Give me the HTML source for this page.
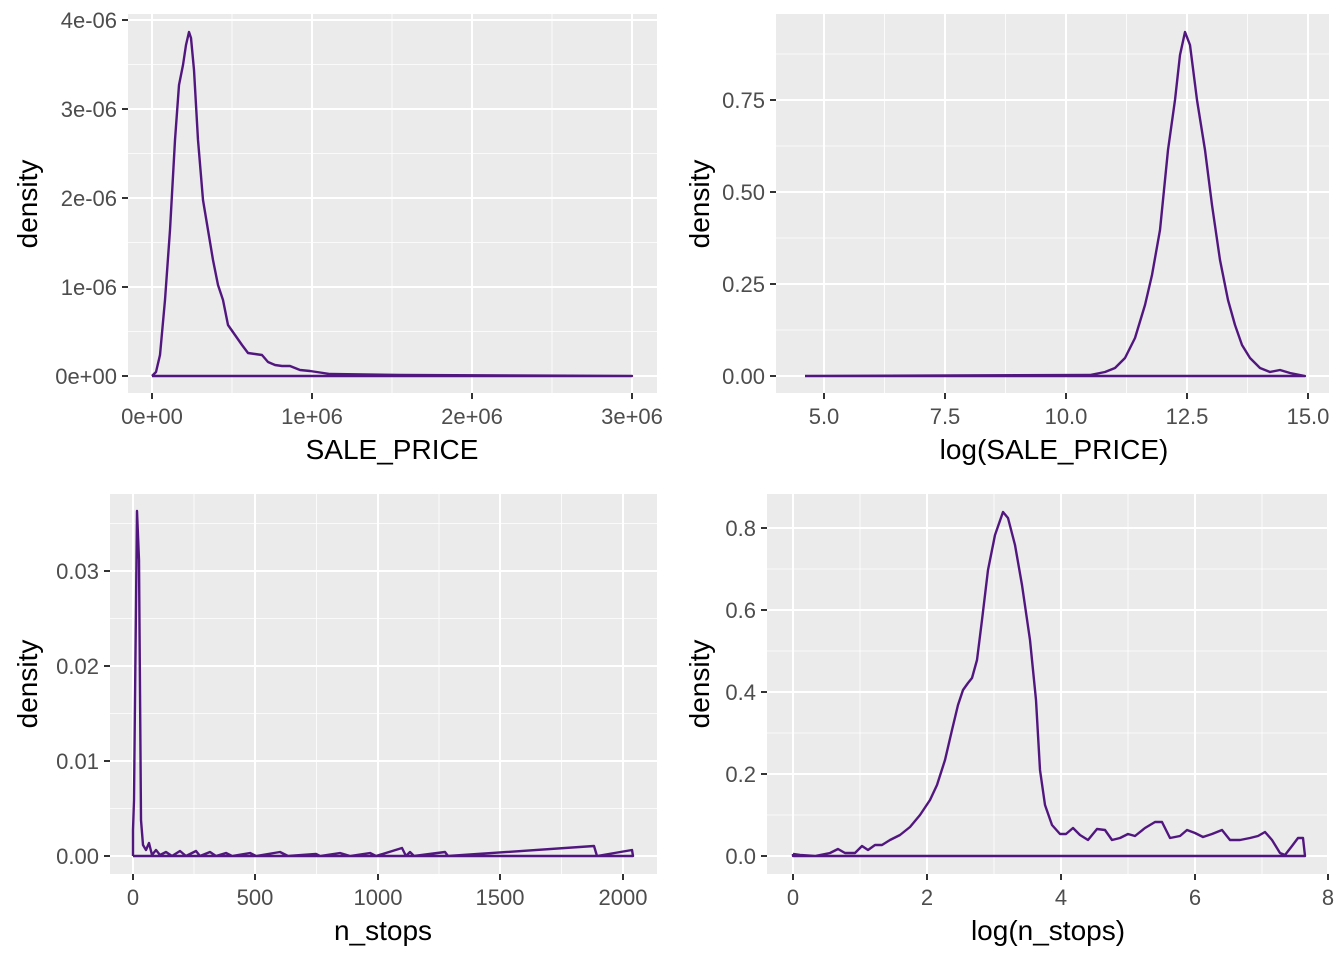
<!DOCTYPE html><html><head><style>body{margin:0;background:#fff}svg{display:block}text{font-family:"Liberation Sans",sans-serif}</style></head><body>
<svg width="1344" height="960" xmlns="http://www.w3.org/2000/svg">
<g font-size="22" fill="#4d4d4d">
<!-- Panel 1 -->
<rect x="128" y="14" width="529" height="379" fill="#ebebeb"/>
<g stroke="#fff" stroke-width="0.8"><path d="M232 14V393M392 14V393M552 14V393M128 331.5H657M128 242.5H657M128 153.5H657M128 64.5H657"/></g>
<g stroke="#fff" stroke-width="2"><path d="M152 14V393M312 14V393M472 14V393M632 14V393M128 376H657M128 287H657M128 198H657M128 109H657M128 20H657"/></g>
<g stroke="#333" stroke-width="2"><path d="M122 376H128M122 287H128M122 198H128M122 109H128M122 20H128M152 393V399M312 393V399M472 393V399M632 393V399"/></g>
<g text-anchor="end"><text x="117" y="384">0e+00</text><text x="117" y="295">1e-06</text><text x="117" y="206">2e-06</text><text x="117" y="117">3e-06</text><text x="117" y="28">4e-06</text></g>
<g text-anchor="middle"><text x="152" y="424">0e+00</text><text x="312" y="424">1e+06</text><text x="472" y="424">2e+06</text><text x="632" y="424">3e+06</text></g>
<polyline fill="none" stroke="#52177f" stroke-width="2.4" stroke-linejoin="round" points="152,376 156,372 160,355 165,300 170,230 175,140 179,85 183,65 186,45 189,32 191,38 194,70 198,140 203,200 208,230 213,260 218,285 223,300 228,325 235,335 242,345 248,353 255,354 262,355 268,362 275,365 282,366 290,366 300,370 310,371 330,374 400,375 632,376 152,376"/>
<!-- Panel 2 -->
<rect x="776" y="14" width="553" height="379" fill="#ebebeb"/>
<g stroke="#fff" stroke-width="0.8"><path d="M884.5 14V393M1005.5 14V393M1126.5 14V393M1247.5 14V393M776 330H1329M776 238H1329M776 146H1329M776 54H1329"/></g>
<g stroke="#fff" stroke-width="2"><path d="M824 14V393M945 14V393M1066 14V393M1187 14V393M1308 14V393M776 376H1329M776 284H1329M776 192H1329M776 100H1329"/></g>
<g stroke="#333" stroke-width="2"><path d="M770 376H776M770 284H776M770 192H776M770 100H776M824 393V399M945 393V399M1066 393V399M1187 393V399M1308 393V399"/></g>
<g text-anchor="end"><text x="765" y="384">0.00</text><text x="765" y="292">0.25</text><text x="765" y="200">0.50</text><text x="765" y="108">0.75</text></g>
<g text-anchor="middle"><text x="824" y="424">5.0</text><text x="945" y="424">7.5</text><text x="1066" y="424">10.0</text><text x="1187" y="424">12.5</text><text x="1308" y="424">15.0</text></g>
<polyline fill="none" stroke="#52177f" stroke-width="2.4" stroke-linejoin="round" points="805,376 1090,375 1105,372 1115,368 1125,358 1135,338 1145,305 1152,275 1160,230 1168,150 1175,100 1180,55 1185,32 1190,45 1197,100 1205,150 1212,205 1220,260 1228,300 1235,325 1242,345 1250,358 1260,368 1270,372 1280,370 1290,373 1305,376 805,376"/>
<!-- Panel 3 -->
<rect x="110" y="494" width="547" height="380" fill="#ebebeb"/>
<g stroke="#fff" stroke-width="0.8"><path d="M194 494V874M316.5 494V874M439 494V874M561.5 494V874M110 808.5H657M110 713.5H657M110 618.5H657M110 523.5H657"/></g>
<g stroke="#fff" stroke-width="2"><path d="M133 494V874M255 494V874M378 494V874M500 494V874M623 494V874M110 856H657M110 761H657M110 666H657M110 571H657"/></g>
<g stroke="#333" stroke-width="2"><path d="M104 856H110M104 761H110M104 666H110M104 571H110M133 874V880M255 874V880M378 874V880M500 874V880M623 874V880"/></g>
<g text-anchor="end"><text x="99" y="864">0.00</text><text x="99" y="769">0.01</text><text x="99" y="674">0.02</text><text x="99" y="579">0.03</text></g>
<g text-anchor="middle"><text x="133" y="905">0</text><text x="255" y="905">500</text><text x="378" y="905">1000</text><text x="500" y="905">1500</text><text x="623" y="905">2000</text></g>
<polyline fill="none" stroke="#52177f" stroke-width="2.4" stroke-linejoin="round" points="133,856 133,830 134,800 135,700 137,511 139,560 141,820 143,845 146,850 149,843 152,855 156,850 160,855 166,852 172,856 180,851 186,856 196,851 200,856 210,852 216,856 226,853 232,856 250,853 256,856 280,852 288,856 316,854 320,856 340,853 350,856 370,853 376,856 402,848 406,856 410,852 414,856 445,852 448,856 594,846 597,856 632,850 633,856 133,856"/>
<!-- Panel 4 -->
<rect x="767" y="494" width="562" height="380" fill="#ebebeb"/>
<g stroke="#fff" stroke-width="0.8"><path d="M860 494V874M994 494V874M1128 494V874M1262 494V874M767 815H1329M767 733H1329M767 651H1329M767 569H1329"/></g>
<g stroke="#fff" stroke-width="2"><path d="M793 494V874M927 494V874M1061 494V874M1195 494V874M1328 494V874M767 856H1329M767 774H1329M767 692H1329M767 610H1329M767 528H1329"/></g>
<g stroke="#333" stroke-width="2"><path d="M761 856H767M761 774H767M761 692H767M761 610H767M761 528H767M793 874V880M927 874V880M1061 874V880M1195 874V880M1328 874V880"/></g>
<g text-anchor="end"><text x="756" y="864">0.0</text><text x="756" y="782">0.2</text><text x="756" y="700">0.4</text><text x="756" y="618">0.6</text><text x="756" y="536">0.8</text></g>
<g text-anchor="middle"><text x="793" y="905">0</text><text x="927" y="905">2</text><text x="1061" y="905">4</text><text x="1195" y="905">6</text><text x="1328" y="905">8</text></g>
<polyline fill="none" stroke="#52177f" stroke-width="2.4" stroke-linejoin="round" points="793,854 800,855 815,856 830,853 838,849 845,853 855,853 862,846 868,850 875,845 882,845 890,840 900,835 910,827 920,815 930,800 937,785 945,760 952,730 958,705 963,690 968,683 972,678 977,660 982,620 988,570 995,535 1003,512 1008,518 1015,545 1022,585 1030,640 1036,700 1040,770 1045,805 1052,825 1060,834 1066,834 1073,828 1080,835 1088,840 1097,829 1105,830 1112,840 1120,838 1128,834 1135,836 1145,828 1155,822 1162,822 1170,838 1180,836 1187,830 1195,833 1203,837 1212,834 1222,830 1230,840 1240,840 1250,838 1258,836 1265,832 1272,840 1280,853 1285,855 1292,846 1298,838 1303,838 1305,856 793,856 793,854"/>
</g>
<g font-size="28" fill="#000" text-anchor="middle">
<text x="392" y="459">SALE_PRICE</text>
<text x="1054" y="459">log(SALE_PRICE)</text>
<text x="383" y="940">n_stops</text>
<text x="1048" y="940">log(n_stops)</text>
<text transform="translate(37,204) rotate(-90)">density</text>
<text transform="translate(709,204) rotate(-90)">density</text>
<text transform="translate(37,684) rotate(-90)">density</text>
<text transform="translate(709,684) rotate(-90)">density</text>
</g>
</svg>
</body></html>
